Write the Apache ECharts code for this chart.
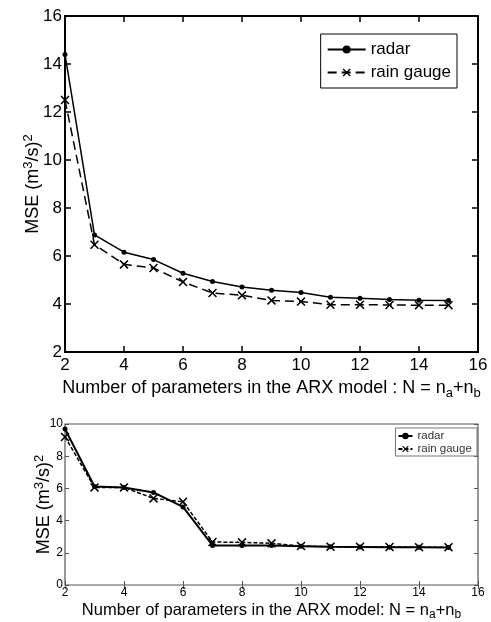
<!DOCTYPE html>
<html>
<head>
<meta charset="utf-8">
<script src="https://cdn.jsdelivr.net/npm/echarts@6/dist/echarts.min.js"></script>
<style>html,body{margin:0;padding:0;background:#fff}#c{width:491px;height:622px}</style>
</head>
<body>
<div id="c"></div>
<script>
// ---- data ----
const nParams = [2, 3, 4, 5, 6, 7, 8, 9, 10, 11, 12, 13, 14, 15];
const topRadar = [14.4, 6.88, 6.16, 5.85, 5.28, 4.94, 4.71, 4.57, 4.48, 4.28, 4.24, 4.19, 4.16, 4.15];
const topGauge = [12.5, 6.47, 5.65, 5.5, 4.92, 4.46, 4.36, 4.15, 4.1, 3.97, 3.97, 3.96, 3.95, 3.95];
const botRadar = [9.69, 6.12, 6.06, 5.75, 4.85, 2.46, 2.46, 2.45, 2.41, 2.37, 2.36, 2.35, 2.34, 2.33];
const botGauge = [9.2, 6.06, 6.06, 5.38, 5.17, 2.67, 2.65, 2.59, 2.42, 2.38, 2.37, 2.36, 2.35, 2.35];
const xTicks = [2, 4, 6, 8, 10, 12, 14, 16];
const topYTicks = [2, 4, 6, 8, 10, 12, 14, 16];
const botYTicks = [0, 2, 4, 6, 8, 10];
const legendNames = ['radar', 'rain gauge'];

const pairs = (ys) => nParams.map((x, i) => [x, ys[i]]);
const FONT = 'Liberation Sans, Arial, sans-serif';
const XMARK = 'path://M0,1.2L1.2,0L5,3.8L8.8,0L10,1.2L6.2,5L10,8.8L8.8,10L5,6.2L1.2,10L0,8.8L3.8,5Z';

const chart = echarts.init(document.getElementById('c'), null, {renderer: 'canvas'});

function xAx(gi, pos, show, fs, col, tickLen, tickW, margin, name, nameGap, nameFs) {
  return {
    type: 'value', gridIndex: gi, position: pos, min: xTicks[0], max: xTicks[xTicks.length - 1], interval: 2,
    axisLine: {show: false},
    axisTick: {show: true, inside: true, length: tickLen, lineStyle: {color: col, width: tickW}},
    axisLabel: {show: show, fontSize: fs, color: '#000', margin: margin, fontFamily: FONT},
    splitLine: {show: false},
    name: name || '', nameLocation: 'middle', nameGap: nameGap || 0, nameMoveOverlap: false,
    nameTextStyle: {fontSize: nameFs || 16, color: '#000', fontFamily: FONT,
      rich: {s: {fontSize: Math.round((nameFs || 16) * 0.7), fontFamily: FONT, color: '#000', padding: [10, 0, 0, 0]}}}
  };
}
function yAx(gi, pos, show, ticks, fs, col, tickLen, tickW, margin, nameGap, nameFs) {
  return {
    type: 'value', gridIndex: gi, position: pos, min: ticks[0], max: ticks[ticks.length - 1], interval: 2,
    axisLine: {show: false},
    axisTick: {show: true, inside: true, length: tickLen, lineStyle: {color: col, width: tickW}},
    axisLabel: {show: show, fontSize: fs, color: '#000', margin: margin, fontFamily: FONT},
    splitLine: {show: false},
    name: show ? 'MSE (m{p|3}/s){p|2}' : '', nameLocation: 'middle', nameRotate: 90, nameGap: nameGap || 0,
    nameMoveOverlap: false,
    nameTextStyle: {fontSize: nameFs || 16, color: '#000', fontFamily: FONT,
      rich: {p: {fontSize: Math.round((nameFs || 16) * 0.72), fontFamily: FONT, color: '#000', padding: [0, 0, 10, 0]}}}
  };
}

const option = {
  animation: false,
  backgroundColor: '#fff',
  grid: [
    {left: 65, right: 13, top: 16, bottom: 270, show: true, borderColor: '#000', borderWidth: 2, backgroundColor: 'transparent'},
    {left: 65, right: 13, top: 424, bottom: 35, show: true, borderColor: '#555', borderWidth: 1.2, backgroundColor: 'transparent'}
  ],
  xAxis: [
    xAx(0, 'bottom', true, 17, '#000', 6, 1.5, 5, 'Number of parameters in the ARX model : N = n{s|a}+n{s|b}', 25, 18),
    xAx(0, 'top', false, 17, '#000', 6, 1.5, 5),
    xAx(1, 'bottom', true, 12, '#555', 4, 1, 2, 'Number of parameters in the ARX model: N = n{s|a}+n{s|b}', 14, 16.5),
    xAx(1, 'top', false, 12, '#555', 4, 1, 2)
  ],
  yAxis: [
    yAx(0, 'left', true, topYTicks, 17, '#000', 6, 1.5, 3, 20, 18),
    yAx(0, 'right', false, topYTicks, 17, '#000', 6, 1.5, 3),
    yAx(1, 'left', true, botYTicks, 12, '#555', 4, 1, 2, 9, 18),
    yAx(1, 'right', false, botYTicks, 12, '#555', 4, 1, 2)
  ],
  legend: [
    {
      data: ['radar', 'rain gauge'], orient: 'vertical', right: 34, top: 34,
      borderColor: '#000', borderWidth: 1, padding: [7, 6, 7, 6], itemWidth: 38, itemHeight: 10, itemGap: 6,
      textStyle: {fontSize: 17, color: '#000', fontFamily: FONT}
    },
    {
      data: ['radar ', 'rain gauge '], orient: 'vertical', right: 14, top: 428,
      borderColor: '#777', borderWidth: 1, padding: [2, 2, 1, 2], itemWidth: 14, itemHeight: 8, itemGap: 1,
      textStyle: {fontSize: 11.5, color: '#333', fontFamily: FONT}
    }
  ],
  series: [
    {name: legendNames[0], type: 'line', xAxisIndex: 0, yAxisIndex: 0, data: pairs(topRadar),
      symbol: 'circle', symbolSize: 5, lineStyle: {color: '#000', width: 1.5}, itemStyle: {color: '#000'}},
    {name: legendNames[1], type: 'line', xAxisIndex: 0, yAxisIndex: 0, data: pairs(topGauge),
      symbol: XMARK, symbolSize: 9, lineStyle: {color: '#000', width: 1.5, type: [9, 5]}, itemStyle: {color: '#000'}},
    {name: legendNames[0] + ' ', type: 'line', xAxisIndex: 2, yAxisIndex: 2, data: pairs(botRadar),
      symbol: 'circle', symbolSize: 5, lineStyle: {color: '#000', width: 2}, itemStyle: {color: '#000'}},
    {name: legendNames[1] + ' ', type: 'line', xAxisIndex: 2, yAxisIndex: 2, data: pairs(botGauge),
      symbol: XMARK, symbolSize: 9, lineStyle: {color: '#000', width: 1.5, type: [4, 2]}, itemStyle: {color: '#000'}}
  ]
};
chart.setOption(option);
</script>
</body>
</html>
